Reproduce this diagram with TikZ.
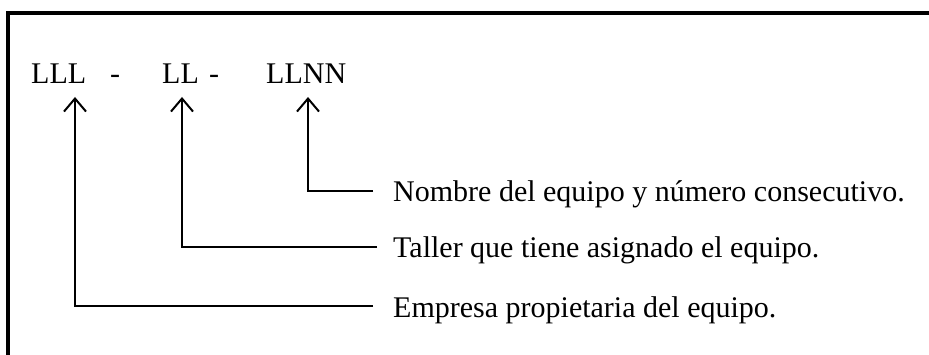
\documentclass[tikz,border=0pt]{standalone}
\usepackage{fontspec}
\setmainfont{Liberation Serif}
\usetikzlibrary{arrows.meta}
\begin{document}
\begin{tikzpicture}[x=1pt,y=-1pt,
  code/.style={anchor=base west,inner sep=0pt,font=\fontsize{30}{34}\selectfont},
  lab/.style={anchor=base west,inner sep=0pt,font=\fontsize{30}{34}\selectfont},
  conn/.style={line width=2pt,-{Straight Barb[length=13pt,width=22pt,line width=2pt]}},
  frame/.style={line width=3.2pt}]
\useasboundingbox (0,0) rectangle (929,355);
\clip (0,0) rectangle (929,355);
% frame (only left and top edges visible)
\coordinate (fbl) at (8,370);
\coordinate (ftr) at (945,13);
\draw[frame] (fbl) |- (ftr);
% code
\node[code] (lll) at (31,84) {LLL};
\node[code] (d1) at (110,84) {-};
\node[code] (ll) at (162,84) {LL};
\node[code] (d2) at (209,84) {-};
\node[code] (llnn) at (266,84) {LLNN};
% arrow tips
\coordinate (t1) at (308,97);
\coordinate (t2) at (182,97);
\coordinate (t3) at (75,97);
% label line ends
\coordinate (e1) at (373,191);
\coordinate (e2) at (377,247);
\coordinate (e3) at (373,306);
% labels
\node[lab] (n1) at (393,202) {Nombre del equipo y número consecutivo.};
\node[lab] (n2) at (393,258) {Taller que tiene asignado el equipo.};
\node[lab] (n3) at (393,317) {Empresa propietaria del equipo.};
% connectors
\draw[conn] (e1) -| (t1);
\draw[conn] (e2) -| (t2);
\draw[conn] (e3) -| (t3);
\end{tikzpicture}
\end{document}
